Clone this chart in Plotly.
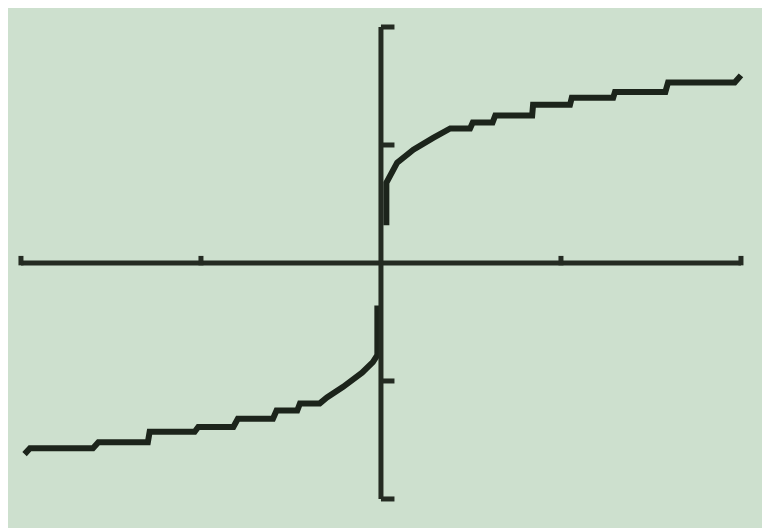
import plotly.graph_objects as go

# points (x in units, y in units)
upper_x = [0.06, 0.06, 0.18, 0.36, 0.58, 0.77, 0.99, 1.02, 1.24, 1.27, 1.68, 1.69, 2.10, 2.12,
           2.58, 2.60, 3.16, 3.19, 3.93, 4.00]
upper_y = [0.32, 0.68, 0.85, 0.96, 1.06, 1.14, 1.14, 1.19, 1.19, 1.25, 1.25, 1.34, 1.34, 1.40,
           1.40, 1.45, 1.45, 1.53, 1.53, 1.59]
lower_x = [-3.96, -3.90, -3.20, -3.14, -2.59, -2.57, -2.07, -2.03, -1.64, -1.59, -1.20, -1.16,
           -0.93, -0.90, -0.68, -0.60, -0.42, -0.21, -0.09, -0.04, -0.04]
lower_y = [-1.62, -1.57, -1.57, -1.52, -1.52, -1.43, -1.43, -1.39, -1.39, -1.32, -1.32, -1.25,
           -1.25, -1.19, -1.19, -1.14, -1.05, -0.93, -0.84, -0.78, -0.36]

x_ticks = [-4, -2, 2, 4]
y_ticks = [-2, -1, 1, 2]

ink = "#1c241b"
axis_ink = "#242b22"

fig = go.Figure()
fig.add_trace(go.Scatter(x=upper_x, y=upper_y, mode="lines",
                         line=dict(color=ink, width=6), hoverinfo="skip"))
fig.add_trace(go.Scatter(x=lower_x, y=lower_y, mode="lines",
                         line=dict(color=ink, width=6), hoverinfo="skip"))

# calculator axes with their tick marks
shapes = [
    dict(type="line", x0=-4, x1=4, y0=0, y1=0, line=dict(color=axis_ink, width=5)),
    dict(type="line", x0=0, x1=0, y0=-2, y1=2, line=dict(color=axis_ink, width=5)),
]
for t in x_ticks:
    shapes.append(dict(type="line", x0=t, x1=t, y0=-0.02, y1=0.06,
                       line=dict(color=axis_ink, width=5)))
for t in y_ticks:
    shapes.append(dict(type="line", x0=0, x1=0.15, y0=t, y1=t,
                       line=dict(color=axis_ink, width=5)))

# the page body adds an 8px offset, so the figure itself starts at the screen edge
fig.update_layout(
    width=762, height=521,
    margin=dict(l=0, r=5, t=0, b=1),
    paper_bgcolor="#ffffff",
    plot_bgcolor="#cde0ce",
    showlegend=False,
    shapes=shapes,
    xaxis=dict(range=[-4.144, 4.267], showgrid=False, zeroline=False, showticklabels=False,
               ticks="", showline=True, side="top", linecolor="#9aaa9a", linewidth=3),
    yaxis=dict(range=[-2.246, 2.161], showgrid=False, zeroline=False, showticklabels=False,
               ticks="", showline=True, side="left", linecolor="#a3b5a3", linewidth=3),
)

fig.write_html("out.html")
